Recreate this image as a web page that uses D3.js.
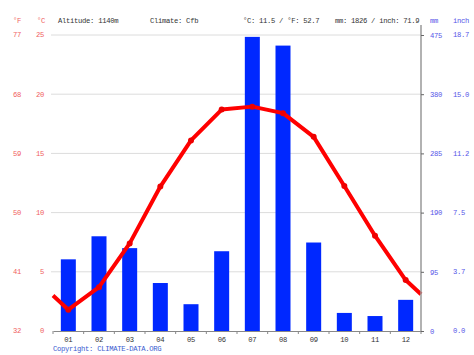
<!DOCTYPE html>
<html><head><meta charset="utf-8">
<script src="https://cdn.jsdelivr.net/npm/d3@7"></script>
<style>body{margin:0;background:#fff}text{font-family:"Liberation Mono","DejaVu Sans Mono",monospace;font-size:7.2px;letter-spacing:-0.3px}</style>
</head><body><svg id="c" width="474" height="355"></svg>
<script>
const months = ["01","02","03","04","05","06","07","08","09","10","11","12"];
const precipMm = [115,152,133,77,43,128,472,458,142,29,24,50];
const tempC = [1.8,3.7,7.4,12.2,16.1,18.7,18.95,18.4,16.4,12.25,8.05,4.3];
const edgeTempC = [3.0,3.1];
const cTicks = [0,5,10,15,20,25];
const fTicks = ["32","41","50","59","68","77"];
const mmTicks = [0,95,190,285,380,475];
const inchTicks = ["0.0","3.7","7.5","11.2","15.0","18.7"];

const svg = d3.select("#c");
const L=53,R=421,T=35,B=331;
const x = d3.scaleBand().domain(months).range([L,R]);
const yT = d3.scaleLinear().domain([0,25]).range([B,T]);
const yP = d3.scaleLinear().domain([0,475]).range([B,T]);
const red="#f06060", blue="#5555e8", dark="#333";

// grid
svg.append("g").selectAll("line").data(cTicks.slice(1)).join("line")
 .attr("x1",L-2).attr("x2",R).attr("y1",d=>yT(d)).attr("y2",d=>yT(d))
 .attr("stroke","#dcdcdc").attr("stroke-width",1);

// bars
const bw=15;
svg.append("g").selectAll("rect").data(precipMm).join("rect")
 .attr("x",(d,i)=>x(months[i])+x.bandwidth()/2-bw/2).attr("width",bw)
 .attr("y",d=>yP(d)).attr("height",d=>B-yP(d)).attr("fill","#0028ff");

// temp line
const pts=[[L,edgeTempC[0]]].concat(tempC.map((t,i)=>[x(months[i])+x.bandwidth()/2,t])).concat([[R,edgeTempC[1]]]);
svg.append("path").datum(pts).attr("fill","none").attr("stroke","#ff0000").attr("stroke-width",4)
 .attr("stroke-linejoin","round")
 .attr("d",d3.line().x(d=>d[0]).y(d=>yT(d[1])));
svg.append("g").selectAll("circle").data(tempC).join("circle")
 .attr("cx",(d,i)=>x(months[i])+x.bandwidth()/2).attr("cy",d=>yT(d)).attr("r",3).attr("fill","#ee0000");

// bottom axis
const gx=svg.append("g").attr("transform",`translate(0,${B})`)
 .call(d3.axisBottom(x).tickSize(0).tickPadding(6));
gx.select(".domain").attr("stroke","#888");
gx.selectAll("text").attr("fill",dark).attr("font-size",null).attr("font-family",null);
svg.append("g").selectAll("line").data(months.concat(["end"])).join("line")
 .attr("x1",(d,i)=>L+i*x.bandwidth()).attr("x2",(d,i)=>L+i*x.bandwidth())
 .attr("y1",B).attr("y2",B+3).attr("stroke","#888");

// right axis
const gr=svg.append("g").attr("transform",`translate(${R},0)`)
 .call(d3.axisRight(yP).tickValues(mmTicks).tickSize(3).tickPadding(6));
gr.attr("font-size",null).attr("font-family",null);
gx.attr("font-size",null).attr("font-family",null);
gr.select(".domain").attr("stroke","#999").attr("stroke-width",1.5);
gr.select(".domain").attr("d",`M0,${T-10}V${B}`);
gr.selectAll("line").attr("stroke","#666");
gr.selectAll("text").attr("fill",blue);
svg.append("g").selectAll("text").data(inchTicks).join("text")
 .attr("x",453).attr("y",(d,i)=>yP(mmTicks[i])).attr("dy","0.32em")
 .attr("fill",blue).text(d=>d);

// left labels
svg.append("g").selectAll("text").data(cTicks).join("text")
 .attr("x",44).attr("y",d=>yT(d)).attr("dy","0.32em").attr("text-anchor","end")
 .attr("fill",red).text(d=>d);
svg.append("g").selectAll("text").data(fTicks).join("text")
 .attr("x",21).attr("y",(d,i)=>yT(cTicks[i])).attr("dy","0.32em").attr("text-anchor","end")
 .attr("fill",red).text(d=>d);

// header
const hy=23;
const hdr=[["°F",13,red],["°C",37,red],["Altitude: 1140m",58,dark],["Climate: Cfb",150,dark],
 ["°C: 11.5 / °F: 52.7",243,dark],["mm: 1826 / inch: 71.9",335,dark],["mm",430,blue],["inch",453,blue]];
svg.append("g").selectAll("text").data(hdr).join("text")
 .attr("x",d=>d[1]).attr("y",hy).attr("fill",d=>d[2]).text(d=>d[0]);
svg.append("text").attr("x",53).attr("y",351).attr("fill","#3a5ad0")
 .text("Copyright: CLIMATE-DATA.ORG");
</script></body></html>
